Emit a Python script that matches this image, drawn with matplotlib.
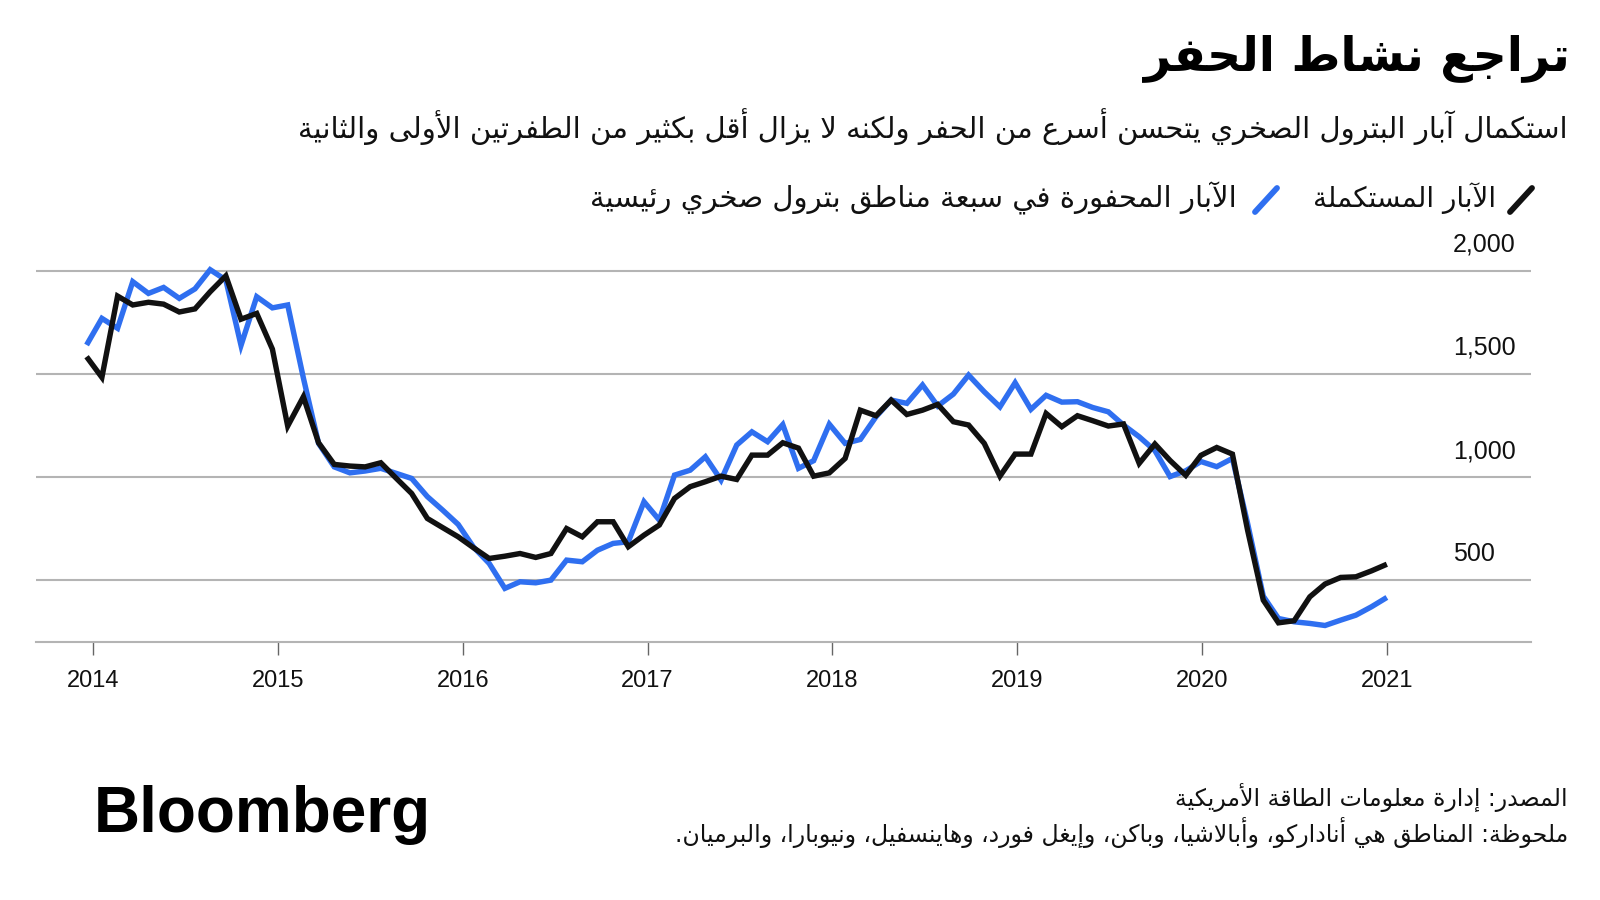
import matplotlib
matplotlib.use("Agg")
import matplotlib.pyplot as plt
import numpy as np
import pandas as pd
from matplotlib.lines import Line2D
from matplotlib.transforms import blended_transform_factory, offset_copy

# ---- data (85 monthly readings ending Jan 2021) ----
dates = pd.date_range("2013-12-19", "2021-01-01", periods=85)

completed = [
    1583, 1483, 1877, 1834, 1847, 1838, 1800, 1815, 1898, 1975, 1765, 1793,
    1620, 1247, 1389, 1166, 1061, 1053, 1049, 1069, 995, 920, 799, 755,
    710, 657, 605, 616, 629, 610, 629, 750, 710, 783, 783, 662,
    718, 767, 896, 953, 977, 1004, 988, 1106, 1106, 1166, 1140, 1004,
    1020, 1090, 1324, 1297, 1373, 1303, 1324, 1352, 1268, 1252, 1163, 1004,
    1111, 1111, 1308, 1244, 1297, 1273, 1247, 1257, 1066, 1160, 1080, 1008,
    1105, 1143, 1111, 742, 403, 293, 303, 419, 481, 513, 516, 545,
    577,
]
drilled = [
    1640, 1769, 1721, 1947, 1890, 1919, 1866, 1912, 2005, 1955, 1638, 1874,
    1820, 1834, 1480, 1163, 1049, 1020, 1029, 1042, 1018, 993, 905, 840,
    770, 660, 581, 460, 492, 487, 500, 597, 589, 645, 678, 686,
    880, 791, 1009, 1033, 1098, 985, 1155, 1219, 1171, 1254, 1042, 1079,
    1256, 1163, 1182, 1292, 1373, 1357, 1446, 1344, 1402, 1494, 1413, 1340,
    1457, 1328, 1396, 1363, 1365, 1337, 1316, 1252, 1195, 1128, 1002, 1030,
    1075, 1050, 1090, 775, 422, 314, 298, 290, 280, 306, 330, 371,
    416,
]

years = list(range(2014, 2022))
yticks = [500, 1000, 1500, 2000]
ytick_labels = ["500", "1,000", "1,500", "2,000"]

title = "تراجع نشاط الحفر"
subtitle = ("استكمال آبار البترول الصخري يتحسن أسرع من الحفر ولكنه لا يزال "
            "أقل بكثير من الطفرتين الأولى والثانية")
label_completed = "الآبار المستكملة"
label_drilled = "الآبار المحفورة في سبعة مناطق بترول صخري رئيسية"
source = "المصدر: إدارة معلومات الطاقة الأمريكية"
note = ("ملحوظة: المناطق هي أناداركو، وأبالاشيا، وباكن، وإيغل فورد، "
        "وهاينسفيل، ونيوبارا، والبرميان.")

BLUE = "#2f6ff0"
BLACK = "#111111"
GRID = "#b4b4b4"


# ---- minimal Arabic shaping (matplotlib 3.10 has no shaping / bidi) ----
_letters = [(0x621, 1), (0x622, 2), (0x623, 2), (0x624, 2), (0x625, 2),
            (0x626, 4), (0x627, 2), (0x628, 4), (0x629, 2), (0x62A, 4),
            (0x62B, 4), (0x62C, 4), (0x62D, 4), (0x62E, 4), (0x62F, 2),
            (0x630, 2), (0x631, 2), (0x632, 2), (0x633, 4), (0x634, 4),
            (0x635, 4), (0x636, 4), (0x637, 4), (0x638, 4), (0x639, 4),
            (0x63A, 4), (0x641, 4), (0x642, 4), (0x643, 4), (0x644, 4),
            (0x645, 4), (0x646, 4), (0x647, 4), (0x648, 2), (0x649, 2),
            (0x64A, 4)]
FORMS = {}
_cp = 0xFE80
for _c, _n in _letters:
    FORMS[chr(_c)] = [chr(_cp + k) for k in range(_n)]
    _cp += _n
LAM_ALEF = {"\u0622": ("\uFEF5", "\uFEF6"), "\u0623": ("\uFEF7", "\uFEF8"),
            "\u0625": ("\uFEF9", "\uFEFA"), "\u0627": ("\uFEFB", "\uFEFC")}


def ar(text):
    chars = list(text)
    out = []
    prev_joins = False
    i = 0
    while i < len(chars):
        c = chars[i]
        if c == "\u0644" and i + 1 < len(chars) and chars[i + 1] in LAM_ALEF:
            iso, fin = LAM_ALEF[chars[i + 1]]
            out.append(fin if prev_joins else iso)
            prev_joins = False
            i += 2
            continue
        if c not in FORMS:
            out.append(c)
            prev_joins = False
            i += 1
            continue
        forms = FORMS[c]
        nxt = chars[i + 1] if i + 1 < len(chars) else ""
        next_joins = len(forms) == 4 and len(FORMS.get(nxt, [])) >= 2
        if prev_joins and next_joins:
            out.append(forms[3])
        elif prev_joins:
            out.append(forms[1] if len(forms) > 1 else forms[0])
        elif next_joins:
            out.append(forms[2])
        else:
            out.append(forms[0])
        prev_joins = next_joins
        i += 1
    return "".join(reversed(out))


W, H = 1600, 900


def px(x, y):
    return x / W, 1 - y / H


fig = plt.figure(figsize=(16, 9), dpi=100)
fig.patch.set_facecolor("white")

# axes: x 36..1531 px, y 250..642 px
ax = fig.add_axes([36 / W, (H - 642) / H, (1531 - 36) / W, (642 - 250.1) / H])
x = dates.year + (dates.dayofyear - 1) / 365.25
ax.plot(x, drilled, color=BLUE, lw=3.9, solid_joinstyle="miter",
        solid_capstyle="butt", zorder=3)
ax.plot(x, completed, color=BLACK, lw=3.9, solid_joinstyle="miter",
        solid_capstyle="butt", zorder=4)
ax.set_xlim(2013.69, 2021.78)
ax.set_ylim(200, 2100)

for s in ["top", "right", "left"]:
    ax.spines[s].set_visible(False)
ax.spines["bottom"].set_color(GRID)
ax.spines["bottom"].set_linewidth(1.5)

ax.set_yticks(yticks)
ax.yaxis.grid(True, color=GRID, lw=1.5)
ax.set_axisbelow(True)
ax.tick_params(axis="y", length=0, labelleft=False)
ax.set_xticks(years)
ax.set_xticklabels([str(y) for y in years], fontsize=17,
                   fontfamily="Liberation Sans", color="#111111")
ax.tick_params(axis="x", length=9.5, width=1, color="#666666", pad=11)

ytrans = offset_copy(blended_transform_factory(ax.transAxes, ax.transData),
                     fig=fig, y=18.7, units="points")
for v, lab in zip(yticks, ytick_labels):
    ax.text((1453 - 36) / (1531 - 36), v, lab, transform=ytrans, ha="left",
            va="center", fontsize=18, fontfamily="Liberation Sans",
            color="#111111", clip_on=False)

# ---- texts ----
fig.text(*px(1570, 58), ar(title), ha="right", va="center", fontsize=34,
         fontweight="bold", fontfamily="DejaVu Sans", color="#000000")
fig.text(*px(1568, 127), ar(subtitle), ha="right", va="center", fontsize=21,
         fontfamily="DejaVu Sans", color="#111111")

# legend
fig.add_artist(Line2D([1510 / W, 1532 / W], [1 - 212 / H, 1 - 188 / H],
                      color=BLACK, lw=4.2, solid_capstyle="round"))
fig.text(*px(1496, 198), ar(label_completed), ha="right", va="center",
         fontsize=20, fontfamily="DejaVu Sans", color="#111111")
fig.add_artist(Line2D([1255 / W, 1277 / W], [1 - 212 / H, 1 - 188 / H],
                      color=BLUE, lw=4.2, solid_capstyle="round"))
fig.text(*px(1237, 198), ar(label_drilled), ha="right", va="center",
         fontsize=21, fontfamily="DejaVu Sans", color="#111111")

# footer
fig.text(*px(94, 815), "Bloomberg", ha="left", va="center", fontsize=46,
         fontweight="bold", fontfamily="Liberation Sans", color="#000000")
fig.text(*px(1568, 797), ar(source), ha="right", va="center", fontsize=17,
         fontfamily="DejaVu Sans", color="#111111")
fig.text(*px(1568, 832), ar(note), ha="right", va="center", fontsize=17,
         fontfamily="DejaVu Sans", color="#111111")

fig.savefig("out.png", dpi=100, facecolor="white")
